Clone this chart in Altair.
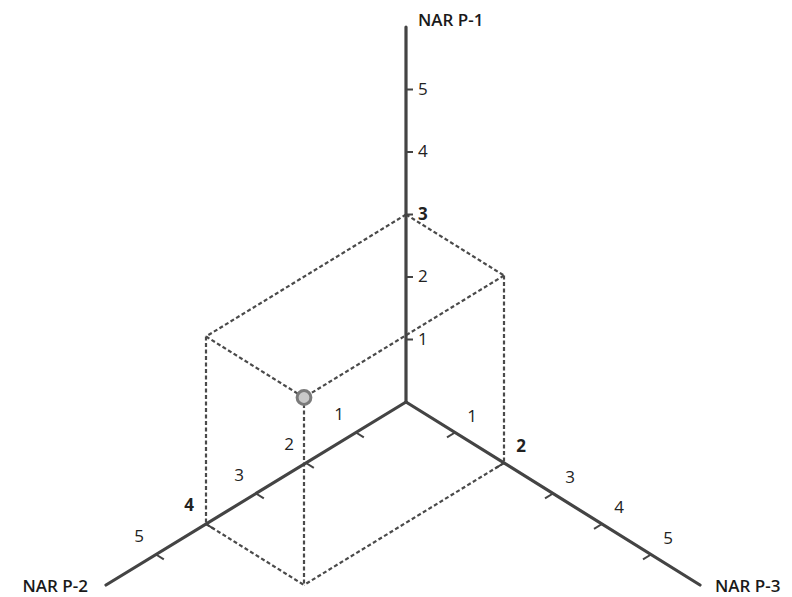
import altair as alt
import pandas as pd

# ---- data ----
axis_names = ["NAR P-1", "NAR P-2", "NAR P-3"]
tick_values = [1, 2, 3, 4, 5]
axis_length = 6
point_p1, point_p2, point_p3 = 3, 4, 2

# ---- projection (isometric-like), in units of one P-1 step ----
E1 = (0.0, 1.0)
E2 = (-0.80, -0.488)
E3 = (0.784, -0.488)
PX = 62.5            # pixels per unit
W, H = 776, 589
OX, OY = 398, 394    # origin inside the plot area (px)


def proj(p1, p2, p3):
    return (p1 * E1[0] + p2 * E2[0] + p3 * E3[0],
            p1 * E1[1] + p2 * E2[1] + p3 * E3[1])


def seg(a, b, kind):
    x, y = proj(*a)
    x2, y2 = proj(*b)
    return {"x": x, "y": y, "x2": x2, "y2": y2, "kind": kind}


# axes
axes_rows = [
    seg((0, 0, 0), (axis_length, 0, 0), "axis"),
    seg((0, 0, 0), (0, axis_length, 0), "axis"),
    seg((0, 0, 0), (0, 0, axis_length), "axis"),
]

# ticks
tick_rows = []
for t in tick_values:
    tick_rows.append(seg((t, 0, 0), (t, 0, 0), "t1"))
    tick_rows.append(seg((0, t, 0), (0, t, 0.16), "t2"))
    tick_rows.append(seg((0, 0, t), (0, 0.16, t), "t3"))
for r in tick_rows:
    if r["kind"] == "t1":
        r["x2"] = r["x"] + 7 / PX

# dashed box
p1, p2, p3 = point_p1, point_p2, point_p3
box_rows = [
    seg((p1, 0, 0), (p1, p2, 0), "box"),
    seg((p1, 0, 0), (p1, 0, p3), "box"),
    seg((p1, p2, 0), (p1, p2, p3), "box"),
    seg((p1, 0, p3), (p1, p2, p3), "box"),
    seg((p1, p2, 0), (0, p2, 0), "box"),
    seg((p1, 0, p3), (0, 0, p3), "box"),
    seg((p1, p2, p3), (0, p2, p3), "box"),
    seg((0, p2, 0), (0, p2, p3), "box"),
    seg((0, 0, p3), (0, p2, p3), "box"),
]

px_, py_ = proj(p1, p2, p3)
point_df = pd.DataFrame([{"x": px_, "y": py_}])


def lab_rows(axis_idx, bold_val):
    rows = []
    for t in tick_values:
        c = [0, 0, 0]
        c[axis_idx] = t
        x, y = proj(*c)
        rows.append({"x": x, "y": y, "label": str(t),
                     "bold": "b" if t == bold_val else "n"})
    return pd.DataFrame(rows)


lab1 = lab_rows(0, point_p1)
lab2 = lab_rows(1, point_p2)
lab3 = lab_rows(2, point_p3)

t1x, t1y = proj(axis_length, 0, 0)
t2x, t2y = proj(0, axis_length, 0)
t3x, t3y = proj(0, 0, axis_length)

xs = alt.Scale(domain=[-OX / PX, (W - OX) / PX], nice=False, zero=False)
ys = alt.Scale(domain=[-(H - OY) / PX, OY / PX], nice=False, zero=False)

X = alt.X("x:Q", scale=xs, axis=None)
Y = alt.Y("y:Q", scale=ys, axis=None)

FONT = "Open Sans"
COL = "#444444"

box = alt.Chart(pd.DataFrame(box_rows)).mark_rule(
    color="#4a4a4a", strokeWidth=2.2, strokeDash=[4, 2.5]
).encode(X, Y, x2="x2:Q", y2="y2:Q")

axes = alt.Chart(pd.DataFrame(axes_rows)).mark_rule(
    color=COL, strokeWidth=3.2, strokeCap="round"
).encode(X, Y, x2="x2:Q", y2="y2:Q")

ticks = alt.Chart(pd.DataFrame(tick_rows)).mark_rule(
    color=COL, strokeWidth=2
).encode(X, Y, x2="x2:Q", y2="y2:Q")

dot = alt.Chart(point_df).mark_point(
    filled=False, fill="#c8c8c8", fillOpacity=1, stroke="#7a7a7a",
    strokeWidth=3, size=190, opacity=1, shape="circle"
).encode(X, Y)


def labels(df, dx, dy, align):
    out = []
    for flag, wt in [("n", "normal"), ("b", "bold")]:
        out.append(alt.Chart(df[df["bold"] == flag]).mark_text(
            font=FONT, fontSize=17, color="#222222", dx=dx, dy=dy,
            align=align, baseline="middle", fontWeight=wt
        ).encode(X, Y, text="label:N"))
    return out


l1 = labels(lab1, 12, 0, "left")
l2 = labels(lab2, -17, -18, "center")
l3 = labels(lab3, 17, -16, "center")

titles = []
for name, (tx, ty), dx, dy, align in [
    (axis_names[0], (t1x, t1y), 12, -6, "left"),
    (axis_names[1], (t2x, t2y), -18, 2, "right"),
    (axis_names[2], (t3x, t3y), 15, 2, "left"),
]:
    titles.append(
        alt.Chart(pd.DataFrame([{"x": tx, "y": ty, "label": name}])).mark_text(
            font=FONT, fontSize=17, fontWeight=600, color="#1a1a1a",
            dx=dx, dy=dy, align=align, baseline="middle"
        ).encode(X, Y, text="label:N")
    )

chart = alt.layer(box, axes, ticks, dot, *l1, *l2, *l3, *titles).properties(
    width=W, height=H, padding=0, autosize=alt.AutoSizeParams(type="none")
).configure_view(stroke=None)

chart.save("out.html", embed_options={"renderer": "svg", "actions": False})
